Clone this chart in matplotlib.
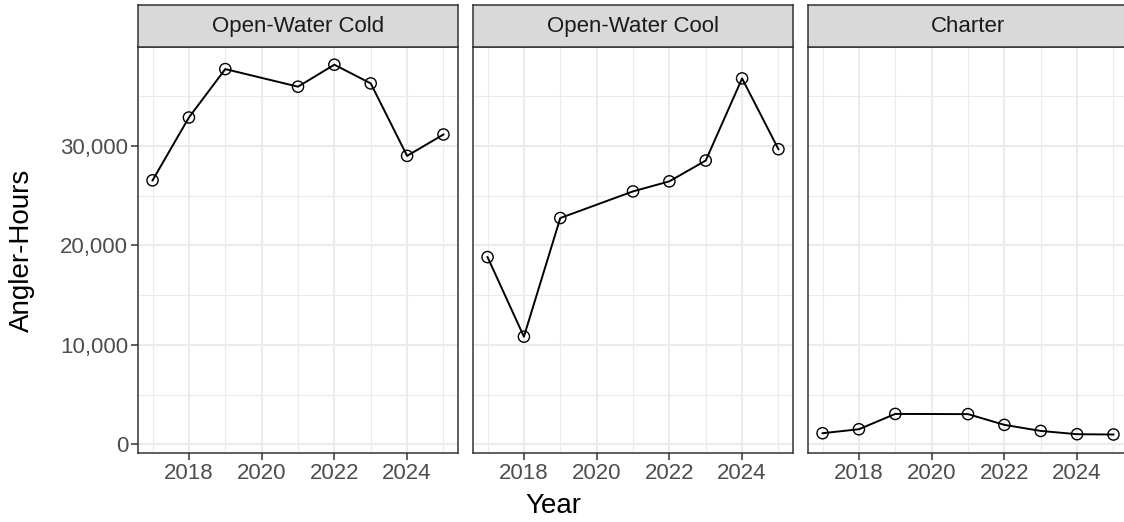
import matplotlib.pyplot as plt
from matplotlib.ticker import FuncFormatter, MultipleLocator

plt.rcParams['font.family'] = ['Liberation Sans', 'DejaVu Sans']

years = [2017, 2018, 2019, 2021, 2022, 2023, 2024, 2025]
panels = ['Open-Water Cold', 'Open-Water Cool', 'Charter']
cold = [26540, 32860, 37730, 35960, 38170, 36290, 29000, 31150]
cool = [18820, 10820, 22750, 25430, 26440, 28530, 36790, 29670]
charter = [1110, 1510, 3050, 3030, 1950, 1340, 1010, 980]
series = [cold, cool, charter]

W, H = 1124, 522
fig = plt.figure(figsize=(W / 100, H / 100), dpi=100)

# panel geometry in pixels (facet_wrap look, theme_bw)
lefts = [138, 473, 808]
pw = 320
ptop, pbot = 47, 453
strip_top = 5

ymin, ymax = -880, 39950
xmin, xmax = 2016.6, 2025.4

for i, (name, vals) in enumerate(zip(panels, series)):
    ax = fig.add_axes([lefts[i] / W, 1 - pbot / H, pw / W, (pbot - ptop) / H])
    ax.set_xlim(xmin, xmax)
    ax.set_ylim(ymin, ymax)
    ax.xaxis.set_major_locator(MultipleLocator(2))
    ax.xaxis.set_minor_locator(MultipleLocator(1))
    ax.yaxis.set_major_locator(MultipleLocator(10000))
    ax.yaxis.set_minor_locator(MultipleLocator(5000))
    ax.grid(which='major', color='#EBEBEB', linewidth=1.5)
    ax.grid(which='minor', color='#EBEBEB', linewidth=0.8)
    ax.set_axisbelow(True)
    ax.plot(years, vals, color='black', linewidth=1.4, zorder=3)
    ax.scatter(years, vals, s=65, facecolors='none', edgecolors='black',
               linewidths=1.0, zorder=4)
    for sp in ax.spines.values():
        sp.set_color('#333333')
        sp.set_linewidth(1.1)
    ax.tick_params(which='minor', length=0)
    ax.tick_params(which='major', length=5, width=1.1, color='#333333',
                   labelsize=16, labelcolor='#4D4D4D', pad=2)
    ax.xaxis.set_major_formatter(FuncFormatter(lambda v, p: '%d' % v))
    if i == 0:
        ax.yaxis.set_major_formatter(FuncFormatter(lambda v, p: '{:,.0f}'.format(v)))
    else:
        ax.tick_params(axis='y', which='both', left=False, labelleft=False)

    # facet strip
    sax = fig.add_axes([lefts[i] / W, 1 - ptop / H, pw / W, (ptop - strip_top) / H])
    sax.set_xticks([])
    sax.set_yticks([])
    sax.set_facecolor('#D9D9D9')
    for sp in sax.spines.values():
        sp.set_color('#333333')
        sp.set_linewidth(1.1)
    sax.text(0.5, 0.48, name, ha='center', va='center', fontsize=16,
             color='#1A1A1A', transform=sax.transAxes)

fig.text(22 / W, 1 - 250 / H, 'Angler-Hours', rotation=90, ha='center',
         va='center', fontsize=20)
fig.text(553 / W, 1 - 506 / H, 'Year', ha='center', va='center', fontsize=20)

fig.savefig('out.png', dpi=100)
